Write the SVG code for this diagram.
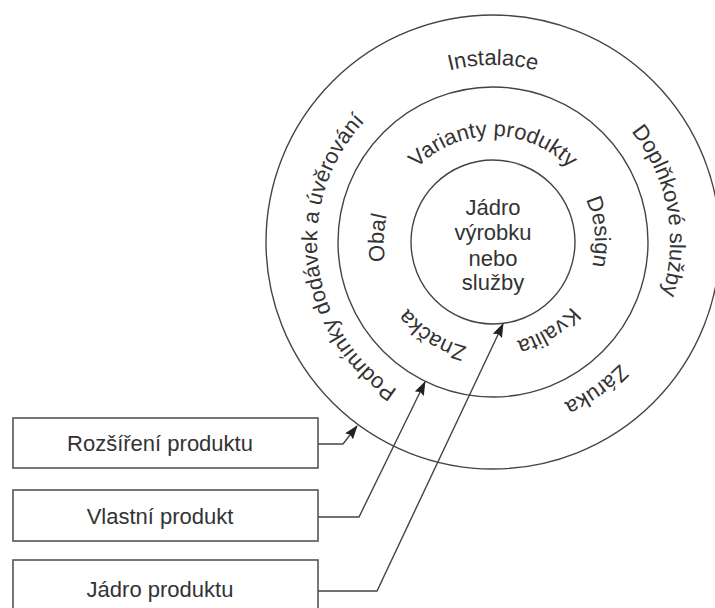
<svg xmlns="http://www.w3.org/2000/svg" xmlns:xlink="http://www.w3.org/1999/xlink" width="715" height="608" viewBox="0 0 715 608">
<style>
.ln{fill:none;stroke:#444;stroke-width:1.4}
.bx{fill:#fff;stroke:#555;stroke-width:1.6}
.t{font-family:"Liberation Sans",Arial,sans-serif;font-size:22px;fill:#333}
</style>
<defs>
<marker id="ah" viewBox="0 0 14 10" refX="13" refY="5" markerWidth="14" markerHeight="10" markerUnits="userSpaceOnUse" orient="auto">
<path d="M0,0 L14,5 L0,10 L2,5 Z" fill="#222"/>
</marker>
<path id="pInst" d="M316,242 A177,177 0 0 1 670,242"/>
<path id="pDopl" d="M460,68.1 A177,177 0 0 1 526,415.9"/>
<path id="pZar" d="M638,140.5 A177,177 0 0 1 348,343.5"/>
<path id="pPod" d="M514.4,416.7 A176,176 0 0 1 471.6,67.3"/>
<path id="pVar" d="M387,242 A106,106 0 0 1 599,242"/>
<path id="pDes" d="M483,138.5 A104,104 0 0 1 503,345.5"/>
<path id="pKva" d="M582,186.4 A105,105 0 0 1 404,297.6"/>
<path id="pZna" d="M583.6,300.8 A108,108 0 0 1 402.4,183.2"/>
<path id="pObal" d="M489.1,353.9 A112,112 0 0 1 496.9,130.1"/>
</defs>
<g id="ring-outer">
<circle class="ln" cx="493" cy="242" r="227"/>
<text class="t" text-anchor="middle"><textPath xlink:href="#pInst" startOffset="50%">Instalace</textPath></text>
<text class="t" text-anchor="middle"><textPath xlink:href="#pDopl" startOffset="50%">Doplňkové služby</textPath></text>
<text class="t" text-anchor="middle"><textPath xlink:href="#pZar" startOffset="50%">Záruka</textPath></text>
<text class="t" text-anchor="middle"><textPath xlink:href="#pPod" startOffset="50%">Podmínky dodávek a úvěrování</textPath></text>
</g>
<g id="ring-middle">
<circle class="ln" cx="493" cy="242" r="155"/>
<text class="t" text-anchor="middle"><textPath xlink:href="#pVar" startOffset="50%">Varianty produkty</textPath></text>
<text class="t" text-anchor="middle"><textPath xlink:href="#pDes" startOffset="50%">Design</textPath></text>
<text class="t" text-anchor="middle"><textPath xlink:href="#pKva" startOffset="50%">Kvalita</textPath></text>
<text class="t" text-anchor="middle"><textPath xlink:href="#pZna" startOffset="50%">Značka</textPath></text>
<text class="t" text-anchor="middle"><textPath xlink:href="#pObal" startOffset="50%">Obal</textPath></text>
</g>
<g id="core">
<circle class="ln" cx="493" cy="242" r="82"/>
<text class="t" text-anchor="middle" x="493" y="215">Jádro</text>
<text class="t" text-anchor="middle" x="493" y="240">výrobku</text>
<text class="t" text-anchor="middle" x="493" y="266">nebo</text>
<text class="t" text-anchor="middle" x="493" y="290">služby</text>
</g>
<g id="box-rozsireni">
<rect class="bx" x="13" y="418" width="305" height="50"/>
<text class="t" text-anchor="middle" x="160" y="451">Rozšíření produktu</text>
</g>
<g id="box-vlastni">
<rect class="bx" x="13" y="490" width="305" height="51"/>
<text class="t" text-anchor="middle" x="160" y="524">Vlastní produkt</text>
</g>
<g id="box-jadro">
<rect class="bx" x="13" y="560" width="305" height="60"/>
<text class="t" text-anchor="middle" x="160" y="597">Jádro produktu</text>
</g>
<g id="connectors">
<polyline class="ln" points="318,444 343,444 357,426" marker-end="url(#ah)"/>
<polyline class="ln" points="318,517 359,517 425,382" marker-end="url(#ah)"/>
<polyline class="ln" points="318,591 377,591 503,324" marker-end="url(#ah)"/>
</g>
</svg>
